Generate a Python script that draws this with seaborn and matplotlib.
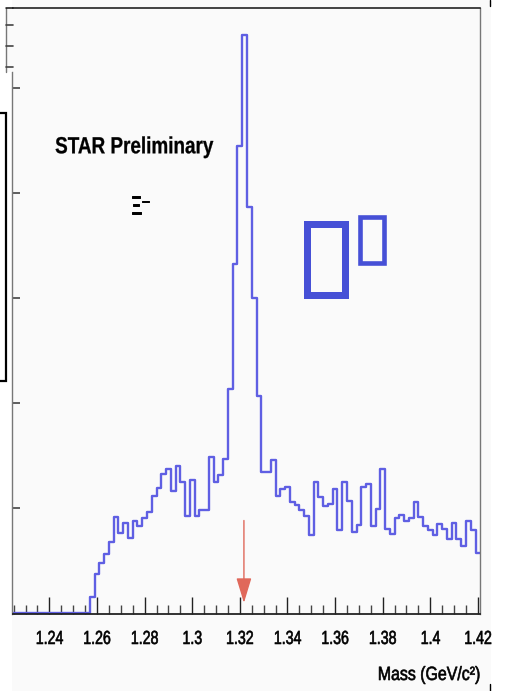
import matplotlib
matplotlib.use("Agg")
import matplotlib.pyplot as plt
import numpy as np
import pandas as pd
import seaborn as sns
from matplotlib import patheffects
from matplotlib.lines import Line2D
from matplotlib.patches import Rectangle
from matplotlib.ticker import FixedLocator, MultipleLocator, NullFormatter
from matplotlib.transforms import Affine2D

# ---------------------------------------------------------------- data
# Invariant-mass histogram of Lambda-pi candidates (counts per 2 MeV/c^2 bin)
BIN_LO = 1.223
BIN_W = 0.002
counts = [
    0, 0, 0, 0, 0, 0, 0, 0, 0, 0, 0, 0, 0, 0, 0, 0, 0,
    15, 37, 48, 56, 68, 91, 76, 86, 71, 88, 83, 90, 96, 111, 119, 132,
    137, 116, 140, 125, 92, 127, 92, 98, 98, 148, 125, 131, 147,
    213, 332, 445, 550, 387, 300, 207,
    134, 134, 146, 111, 118, 120, 106, 103, 98, 92, 74, 125, 110, 102,
    104, 118, 79, 125, 107, 77, 84, 120, 123, 83, 99, 137, 80, 75, 90,
    93, 88, 90, 106, 91, 83, 79, 74, 85, 80, 70, 86, 70, 64, 88, 79, 57,
]
XI_MASS = 1.32171           # PDG mass of the Xi-, marked by the arrow
x_major = [1.24, 1.26, 1.28, 1.30, 1.32, 1.34, 1.36, 1.38, 1.40, 1.42]
x_labels = ["1.24", "1.26", "1.28", "1.3", "1.32", "1.34", "1.36", "1.38", "1.4", "1.42"]

n_bins = len(counts)
bin_hi = BIN_LO + BIN_W * n_bins
centers = BIN_LO + BIN_W * (np.arange(n_bins) + 0.5)
hist = pd.DataFrame({"mass": centers, "count": counts})

# ---------------------------------------------------------------- style
sns.set_style("white")
plt.rcParams["font.family"] = ["Liberation Sans", "DejaVu Sans"]


class Condense(patheffects.AbstractPathEffect):
    """Draw text glyphs squeezed horizontally (a narrow Helvetica look),
    optionally thickened by a thin outline in the text colour."""

    def __init__(self, sx, anchor="center", stroke=0.0):
        super().__init__()
        self.sx = sx
        self.anchor = anchor
        self.stroke = stroke

    def draw_path(self, renderer, gc, tpath, affine, rgbFace=None):
        ext = tpath.get_extents()
        x0 = {"left": ext.x0, "right": ext.x1}.get(self.anchor, 0.5 * (ext.x0 + ext.x1))
        squeeze = Affine2D().translate(-x0, 0).scale(self.sx, 1).translate(x0, 0)
        gc0 = renderer.new_gc()
        gc0.copy_properties(gc)
        if self.stroke > 0:
            gc0.set_linewidth(self.stroke)
            gc0.set_foreground(rgbFace if rgbFace is not None else gc.get_rgb())
        renderer.draw_path(gc0, tpath, squeeze + affine, rgbFace)
        gc0.restore()


LINE = "#5f5fe3"
BOX = "#4650d6"
ARROW = "#e0685a"
PANEL = "#fafafa"

W, H = 506, 691
fig = plt.figure(figsize=(W / 100, H / 100), dpi=100, facecolor="white")


def fx(x):
    return x / W


def fy(y):
    return 1 - y / H


# light canvas behind the frame
fig.patches.append(Rectangle((fx(12), 0), fx(491) - fx(12), 1, transform=fig.transFigure,
                             facecolor=PANEL, edgecolor="none", zorder=-5))

L, R, T, B = 12.5, 480.3, 8.0, 614.3
PX_PER_COUNT = 1.05
Y0 = -(B - 612.9) / PX_PER_COUNT
ax = fig.add_axes([fx(L), fy(B), (R - L) / W, (B - T) / H])
ax.set_facecolor(PANEL)

sns.histplot(data=hist, x="mass", weights="count", bins=n_bins, binrange=(BIN_LO, bin_hi),
             element="step", fill=False, color=LINE, linewidth=1.7, ax=ax)

ax.set_xlim(1.2245, 1.421)
ax.set_ylim(Y0, Y0 + (B - T) / PX_PER_COUNT)
ax.set_xlabel("")
ax.set_ylabel("")

# axis ticks drawn inside the frame
ax.xaxis.set_major_locator(FixedLocator(x_major))
ax.set_xticklabels(x_labels)
for lab in ax.get_xticklabels():
    lab.set_fontsize(13.6)
    lab.set_path_effects([Condense(0.75, "center", stroke=0.45)])
ax.xaxis.set_minor_locator(MultipleLocator(0.005))
ax.yaxis.set_major_locator(FixedLocator([0, 100, 200, 300, 400, 500]))
ax.yaxis.set_minor_locator(FixedLocator([v for v in range(20, 500, 20) if v % 100]))
ax.yaxis.set_major_formatter(NullFormatter())
ax.tick_params(axis="x", which="major", direction="in", length=12.2, width=1.0,
               color="#222222", pad=12, labelcolor="black", bottom=True)
ax.tick_params(axis="x", which="minor", direction="in", length=6.5, width=1.0,
               color="#444444", bottom=True)
ax.tick_params(axis="y", which="major", direction="in", length=5.8, width=1.2, color="#444444",
               left=True, labelleft=False)
ax.tick_params(axis="y", which="minor", direction="in", length=0.9, width=1.4, color="#444444",
               left=True)

for side, col, lw in [("top", "#111111", 1.1), ("bottom", "#222222", 1.3),
                      ("right", "#777777", 1.0), ("left", "#777777", 1.0)]:
    ax.spines[side].set_visible(True)
    ax.spines[side].set_color(col)
    ax.spines[side].set_linewidth(lw)
ax.spines["left"].set_bounds(Y0, Y0 + (B - 72) / PX_PER_COUNT)

# arrow at the nominal Xi- mass
ax.annotate("", xy=(XI_MASS, 9.5), xytext=(XI_MASS, 88),
            arrowprops=dict(arrowstyle="-|>,head_length=1.55,head_width=0.47",
                            color=ARROW, lw=1.0, shrinkA=0, shrinkB=0))

# labels
fig.text(fx(55), fy(153.3), "STAR Preliminary", fontsize=16.8, fontweight="bold",
         ha="left", va="baseline", color="black",
         path_effects=[Condense(0.81, "left", stroke=0.2)])
fig.text(fx(130.5), fy(214), "Ξ⁻", fontsize=18.5,
         ha="left", va="baseline", color="black",
         path_effects=[Condense(0.62, "left", stroke=0.7)])
fig.text(fx(480.5), fy(680), "Mass (GeV/c²)", fontsize=13.8,
         ha="right", va="baseline", color="black",
         path_effects=[Condense(0.83, "right", stroke=0.45)])

# hollow glyph boxes
for (x0, y0, x1, y1, lw) in [(306.8, 224.2, 344.8, 294.8, 7.0),
                             (359.6, 217.0, 384.4, 263.4, 4.6)]:
    fig.patches.append(Rectangle((fx(x0), fy(y1)), fx(x1) - fx(x0), fy(y0) - fy(y1),
                                 transform=fig.transFigure, facecolor="none",
                                 edgecolor=BOX, linewidth=lw * 0.72, zorder=5))

# shifted strip of the frame in the upper-left corner
fig.patches.append(Rectangle((0, fy(72)), fx(12.5), fy(0) - fy(72), transform=fig.transFigure,
                             facecolor="white", edgecolor="none", zorder=6))
fig.patches.append(Rectangle((fx(6), fy(72)), fx(12.5) - fx(6), fy(8) - fy(72),
                             transform=fig.transFigure, facecolor=PANEL, edgecolor="none",
                             zorder=6))
fig.lines.append(Line2D([fx(6), fx(6)], [fy(8), fy(72)], transform=fig.transFigure,
                        color="#777777", lw=1.0, zorder=7))
fig.lines.append(Line2D([fx(6), fx(13)], [fy(8), fy(8)], transform=fig.transFigure,
                        color="#111111", lw=1.1, zorder=7))
for yt in (25, 45.5, 67):
    fig.lines.append(Line2D([fx(6), fx(13)], [fy(yt), fy(yt)], transform=fig.transFigure,
                            color="#444444", lw=1.2, zorder=7))

# inset frame cut by the left edge
fig.patches.append(Rectangle((fx(-6), fy(381)), fx(6.5) - fx(-6), fy(113) - fy(381),
                             transform=fig.transFigure, facecolor="white", edgecolor="black",
                             linewidth=1.6, zorder=6))

# stray marks at the right edge
for (ya, yb) in [(0, 6), (684, 691)]:
    fig.lines.append(Line2D([fx(490.5), fx(490.5)], [fy(ya), fy(yb)],
                            transform=fig.transFigure, color="black", lw=1.0, zorder=7))

fig.savefig("out.png", dpi=100, facecolor="white")
